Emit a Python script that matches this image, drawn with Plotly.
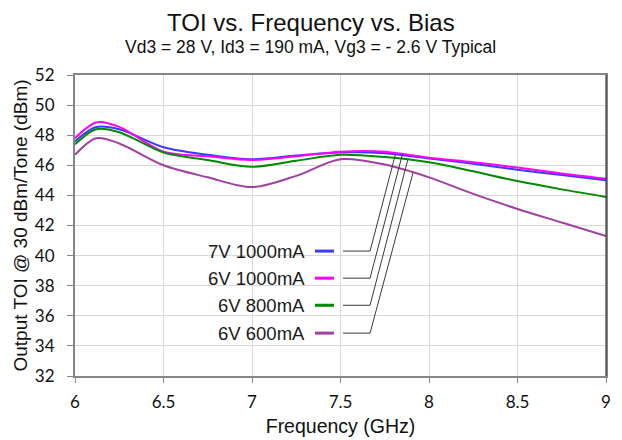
import numpy as np
import plotly.graph_objects as go

freq = [6.0, 6.12, 6.25, 6.5, 6.75, 7.0, 7.25, 7.5, 7.75, 8.0, 8.25, 8.5, 8.75, 9.0]
toi_7v_1000 = [47.6, 48.55, 48.4, 47.2, 46.7, 46.4, 46.65, 46.85, 46.8, 46.45, 46.1, 45.7, 45.35, 45.0]
toi_6v_1000 = [47.8, 48.85, 48.55, 46.9, 46.6, 46.35, 46.6, 46.9, 46.9, 46.5, 46.2, 45.85, 45.45, 45.1]
toi_6v_800 = [47.4, 48.4, 48.2, 46.85, 46.35, 45.9, 46.3, 46.7, 46.55, 46.2, 45.6, 44.95, 44.4, 43.9]
toi_6v_600 = [46.7, 47.8, 47.45, 46.0, 45.2, 44.55, 45.3, 46.4, 46.05, 45.2, 44.1, 43.1, 42.2, 41.3]

series_names = ["7V 1000mA", "6V 1000mA", "6V 800mA", "6V 600mA"]
series_values = [toi_7v_1000, toi_6v_1000, toi_6v_800, toi_6v_600]
series_colors = ["#3a3aff", "#ff00ff", "#008a00", "#a040a0"]

x_ticks = [6, 6.5, 7, 7.5, 8, 8.5, 9]
y_ticks = list(range(32, 53, 2))

# callout-legend layout (data coordinates)
legend_text_x = 7.31
legend_rows_y = [40.3, 38.5, 36.7, 34.85]
sample_x = (7.356, 7.463)
leader_x = (7.514, 7.667)
leader_target_f = [7.81, 7.85, 7.88, 7.91]

TXT = "#111111"
ARIAL = "Liberation Sans, Arial"

fig = go.Figure()
for name, vals, col in zip(series_names, series_values, series_colors):
    fig.add_trace(go.Scatter(x=freq, y=vals, mode="lines", name=name,
                             line=dict(color=col, width=2, shape="spline", smoothing=0.9),
                             showlegend=False))

shapes = []
annotations = []
for i, (name, vals, col) in enumerate(zip(series_names, series_values, series_colors)):
    ry = legend_rows_y[i]
    annotations.append(dict(x=legend_text_x, y=ry, xref="x", yref="y", text=name,
                            showarrow=False, xanchor="right", yanchor="middle",
                            font=dict(family=ARIAL, size=18.5, color="#1a1a1a")))
    shapes.append(dict(type="line", xref="x", yref="y", x0=sample_x[0], x1=sample_x[1],
                       y0=ry, y1=ry, line=dict(color=col, width=3)))
    tf = leader_target_f[i]
    ty = float(np.interp(tf, freq, vals))
    shapes.append(dict(type="path", xref="x", yref="y",
                       path=f"M {leader_x[0]},{ry} L {leader_x[1]},{ry} L {tf},{ty}",
                       line=dict(color="#3a3a3a", width=1)))

# right border
shapes.append(dict(type="line", xref="paper", yref="paper", x0=1, x1=1, y0=0, y1=1,
                   line=dict(color="#222222", width=1)))

annotations += [
    dict(x=0.4444, y=1.176, xref="paper", yref="paper", xanchor="center", yanchor="middle",
         text="TOI vs. Frequency vs. Bias", showarrow=False,
         font=dict(family=ARIAL, size=24, color=TXT)),
    dict(x=0.4444, y=1.094, xref="paper", yref="paper", xanchor="center", yanchor="middle",
         text="Vd3 = 28 V, Id3 = 190 mA, Vg3 = - 2.6 V Typical", showarrow=False,
         font=dict(family=ARIAL, size=17.5, color=TXT)),
]

fig.update_layout(
    width=622, height=440,
    margin=dict(l=67, r=24, t=67, b=72),
    paper_bgcolor="white", plot_bgcolor="white",
    shapes=shapes,
    annotations=annotations,
    xaxis=dict(range=[6, 9], tickvals=x_ticks, ticktext=[str(t) for t in x_ticks],
               showgrid=True, gridcolor="#d9d9d9", gridwidth=1,
               showline=True, linecolor="#868686", linewidth=2, mirror=True,
               ticks="outside", ticklen=5, tickcolor="#868686", zeroline=False,
               ticklabelstandoff=5,
               tickfont=dict(family="Lato", size=17, color=TXT),
               title=dict(text="Frequency (GHz)", standoff=8,
                          font=dict(family=ARIAL, size=19.5, color=TXT))),
    yaxis=dict(range=[32, 52], tickvals=y_ticks,
               showgrid=True, gridcolor="#d9d9d9", gridwidth=1,
               showline=True, linecolor="#868686", linewidth=2, mirror=True,
               ticks="outside", ticklen=6, tickcolor="#868686", zeroline=False,
               ticklabelstandoff=9,
               tickfont=dict(family="Lato", size=17, color=TXT),
               title=dict(text="Output TOI @ 30 dBm/Tone (dBm)", standoff=2,
                          font=dict(family=ARIAL, size=19, color=TXT))),
)

fig.write_html("out.html")
